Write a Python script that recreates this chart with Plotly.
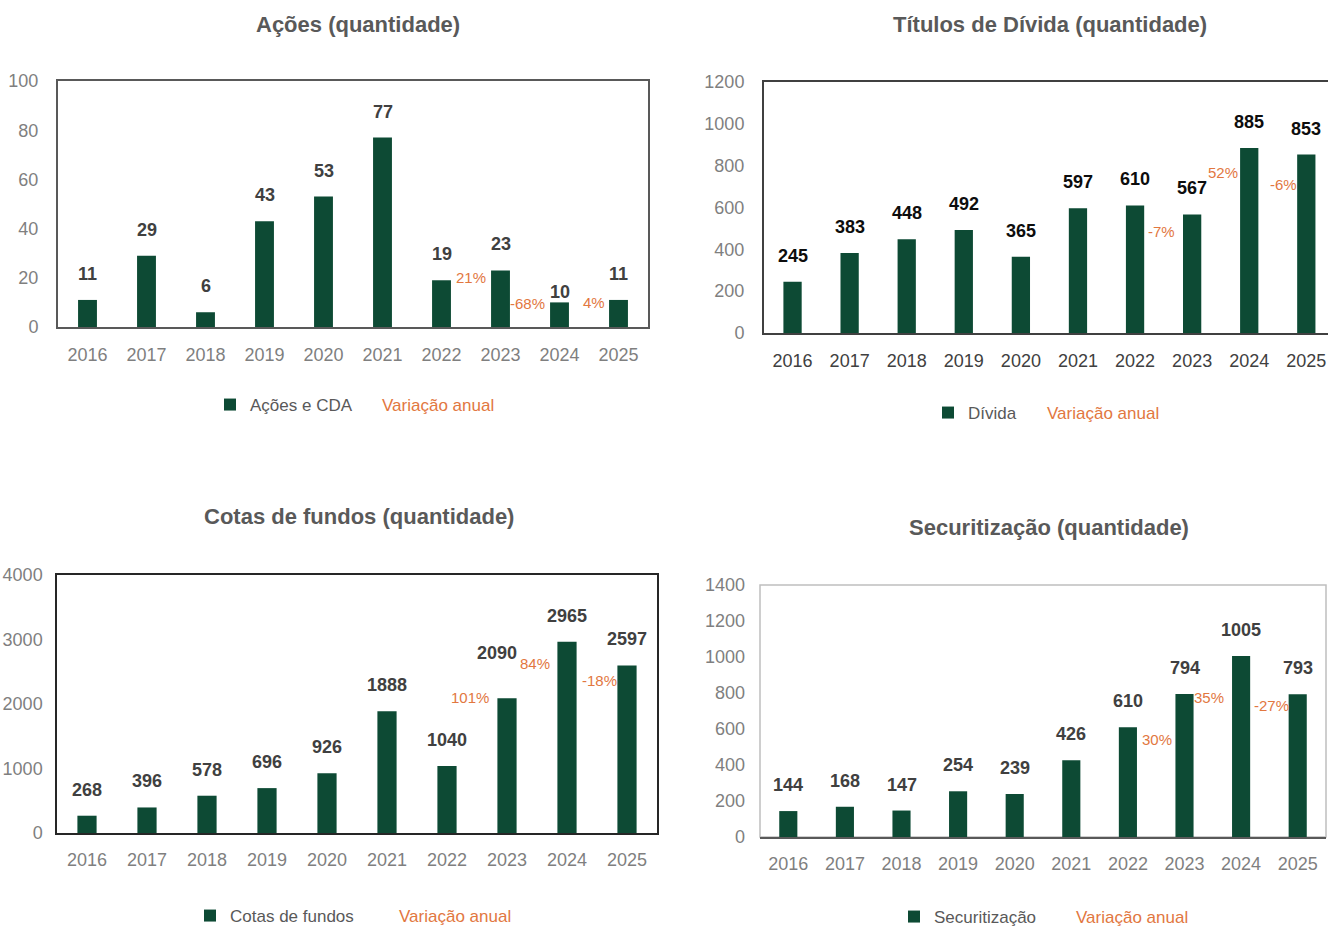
import plotly.graph_objects as go

W, H = 1328, 926

years = ["2016", "2017", "2018", "2019", "2020", "2021", "2022", "2023", "2024", "2025"]

acoes = [11, 29, 6, 43, 53, 77, 19, 23, 10, 11]
divida = [245, 383, 448, 492, 365, 597, 610, 567, 885, 853]
cotas = [268, 396, 578, 696, 926, 1888, 1040, 2090, 2965, 2597]
securit = [144, 168, 147, 254, 239, 426, 610, 794, 1005, 793]

var_years = ["2023", "2024", "2025"]
var_acoes = ["21%", "-68%", "4%"]
var_divida = ["-7%", "52%", "-6%"]
var_cotas = ["101%", "84%", "-18%"]
var_securit = ["30%", "35%", "-27%"]

titles = ["Ações (quantidade)", "Títulos de Dívida (quantidade)",
          "Cotas de fundos (quantidade)", "Securitização (quantidade)"]
series_names = ["Ações e CDA", "Dívida", "Cotas de fundos", "Securitização"]
var_name = "Variação anual"

# ---------------- styling / layout (positions in pixels) ----------------
GREEN = "#0D4A34"
ORANGE = "#E2773F"
TICK = "#7F7F7F"
FONT = "Liberation Sans, Arial, sans-serif"


def px_x(p):
    return p / W


def px_y(p):
    return 1 - p / H


panels = [
    dict(values=acoes, var=var_acoes, name=series_names[0], title=titles[0],
         xd=[58, 648], yd=[327, 81], yr=[0, 100], dt=20, xr=[-0.5, 9.5], ystand=14,
         title_pos=(358, 24), leg1=(210, 405), leg2=(342, 405), lab_color="#404040",
         xtick_color=TICK, box=dict(color="#595959", width=2), right=True, light_box=False,
         var_off=[(-30, -7), (-32, -1), (-25, -3)],
         lab_off={"2024": (0, 10)}),
    dict(values=divida, var=var_divida, name=series_names[1], title=titles[1],
         xd=[764, 1328], yd=[333, 82], yr=[0, 1200], dt=200, xr=[-0.5, 9.38], ystand=14,
         title_pos=(1050, 25), leg1=(928, 413), leg2=(1007, 413), lab_color="#0D0D0D",
         xtick_color="#404040", box=dict(color="#404040", width=2), right=False, light_box=False,
         var_off=[(-31, -17), (-26, -25), (-23, -30)],
         lab_off={}),
    dict(values=cotas, var=var_cotas, name=series_names[2], title=titles[2],
         xd=[57, 657], yd=[833, 575], yr=[0, 4000], dt=1000, xr=[-0.5, 9.5], ystand=9,
         title_pos=(359, 516), leg1=(190, 916), leg2=(359, 916), lab_color="#404040",
         xtick_color=TICK, box=dict(color="#262626", width=1.5), right=True, light_box=False,
         var_off=[(-37, 1), (-32, -22), (-28, -15)],
         lab_off={"2023": (-10, 45)}),
    dict(values=securit, var=var_securit, name=series_names[3], title=titles[3],
         xd=[760, 1326], yd=[837, 585], yr=[0, 1400], dt=200, xr=[-0.5, 9.5], ystand=14,
         title_pos=(1049, 527), leg1=(894, 917), leg2=(1036, 917), lab_color="#404040",
         xtick_color=TICK, box=dict(color="#595959", width=1.5), right=True, light_box=True,
         var_off=[(-28, -45), (-32, -41), (-26, -11)],
         lab_off={}),
]

fig = go.Figure()
annotations = []
shapes = []
layout = dict(
    width=W, height=H, margin=dict(l=0, r=0, t=0, b=0, pad=0, autoexpand=False),
    paper_bgcolor="white", plot_bgcolor="white",
    font=dict(family=FONT, color="#595959"),
)


def legend_box(pos):
    return dict(
        orientation="h", x=px_x(pos[0]), y=px_y(pos[1]),
        xanchor="left", yanchor="middle", bgcolor="rgba(0,0,0,0)",
        font=dict(size=17, color="#595959", family=FONT), itemwidth=30,
        borderwidth=0,
    )


for i, p in enumerate(panels):
    k = "" if i == 0 else str(i + 1)
    xa, ya = "x" + k, "y" + k
    leg_a = "legend" if i == 0 else "legend" + str(2 * i + 1)
    leg_b = "legend" + str(2 * i + 2)

    fig.add_trace(go.Bar(
        x=years, y=p["values"], name=p["name"], marker=dict(color=GREEN, line=dict(width=0)),
        width=0.32, xaxis=xa, yaxis=ya, legend=leg_a, showlegend=True, hoverinfo="x+y",
    ))
    fig.add_trace(go.Scatter(
        x=[None], y=[None], mode="markers",
        marker=dict(color="rgba(0,0,0,0)", size=0, line=dict(width=0)),
        name="<span style='color:%s'>%s</span>" % (ORANGE, var_name),
        xaxis=xa, yaxis=ya, legend=leg_b, showlegend=True,
    ))

    layout["xaxis" + k] = dict(
        domain=[px_x(p["xd"][0]), px_x(p["xd"][1])], anchor=ya, type="category",
        range=p["xr"], showgrid=False, zeroline=False, ticks="",
        showline=True, linecolor=p["box"]["color"], linewidth=p["box"]["width"],
        mirror=(not p["light_box"]),
        tickfont=dict(size=18, color=p["xtick_color"], family=FONT), ticklabelstandoff=10,
        fixedrange=True,
    )
    layout["yaxis" + k] = dict(
        domain=[px_y(p["yd"][0]), px_y(p["yd"][1])], anchor=xa,
        range=p["yr"], dtick=p["dt"], showgrid=False, zeroline=False, ticks="",
        showline=not p["light_box"], linecolor=p["box"]["color"], linewidth=p["box"]["width"],
        mirror=p["right"] and not p["light_box"],
        tickfont=dict(size=18, color=TICK, family=FONT), ticklabelstandoff=p["ystand"],
        fixedrange=True,
    )
    if p["light_box"]:
        shapes.append(dict(type="rect", xref=xa + " domain", yref=ya + " domain",
                           x0=0, x1=1, y0=0, y1=1, line=dict(color="#BFBFBF", width=1.5),
                           layer="below"))

    layout[leg_a] = legend_box(p["leg1"])
    layout[leg_b] = legend_box(p["leg2"])

    # title
    annotations.append(dict(
        text="<b>%s</b>" % p["title"], xref="paper", yref="paper",
        x=px_x(p["title_pos"][0]), y=px_y(p["title_pos"][1]),
        xanchor="center", yanchor="middle", showarrow=False,
        font=dict(size=22, color="#595959", family=FONT),
    ))

    # data labels (anchored on each bar top)
    for idx, (yr, v) in enumerate(zip(years, p["values"])):
        dx, dy = p["lab_off"].get(yr, (0, 26))
        annotations.append(dict(
            text="<b>%d</b>" % v, xref=xa, yref=ya, x=idx, y=v,
            xanchor="center", yanchor="middle", xshift=dx, yshift=dy, showarrow=False,
            font=dict(size=18, color=p["lab_color"], family=FONT),
        ))

    # annual variation labels (anchored on the bar of the year they refer to)
    for (yr, txt), (dx, dy) in zip(zip(var_years, p["var"]), p["var_off"]):
        idx = years.index(yr)
        v = p["values"][idx]
        annotations.append(dict(
            text=txt, xref=xa, yref=ya, x=idx, y=v,
            xanchor="center", yanchor="middle", xshift=dx, yshift=dy, showarrow=False,
            font=dict(size=15, color=ORANGE, family=FONT),
        ))

layout["annotations"] = annotations
layout["shapes"] = shapes
fig.update_layout(**layout)

fig.write_html(
    "out.html",
    config={"displayModeBar": False},
    post_script="document.body.style.margin='0';document.body.style.overflow='hidden';",
)
